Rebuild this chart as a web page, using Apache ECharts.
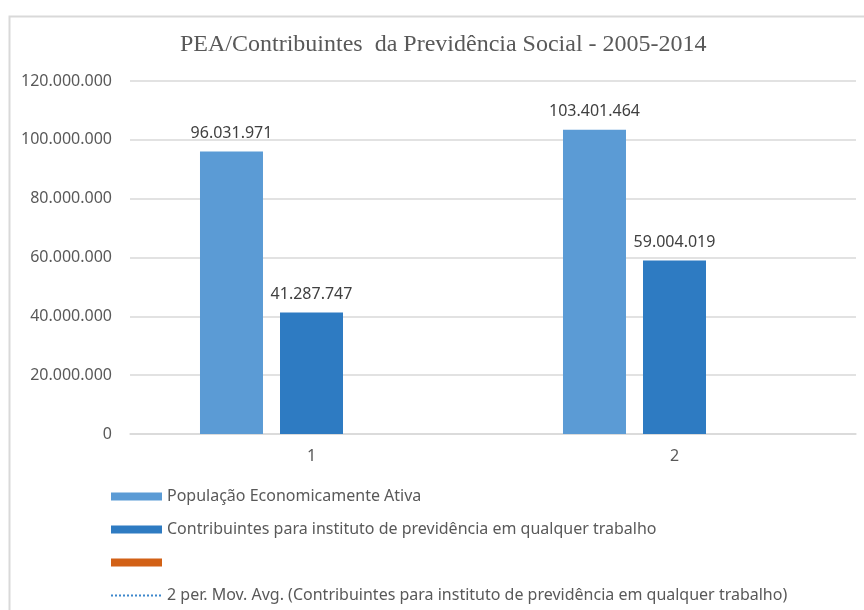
<!DOCTYPE html>
<html>
<head>
<meta charset="utf-8">
<script src="https://cdn.jsdelivr.net/npm/echarts@6/dist/echarts.min.js"></script>
<style>
  html, body { margin: 0; padding: 0; background: #fff; }
  #chart { width: 864px; height: 610px; }
</style>
</head>
<body>
<div id="chart"></div>
<script>
const categories = ['1', '2'];
const peaValues = [96031971, 103401464];
const contribValues = [41287747, 59004019];
const emptySeriesValues = [null, null];
// moving average trendline: nothing visible in the chart, only in the legend
const movingAvgValues = [null, null];
const yTicks = { min: 0, max: 120000000, interval: 20000000 };

const seriesNames = [
  'População Economicamente Ativa',
  'Contribuintes para instituto de previdência em qualquer trabalho',
  ' ',
  '2 per. Mov. Avg. (Contribuintes para instituto de previdência em qualquer trabalho)'
];

// 96031971 -> 96.031.971
function dots(v) {
  return String(Math.round(v)).replace(/\B(?=(\d{3})+(?!\d))/g, '.');
}

const chart = echarts.init(document.getElementById('chart'));

const labelStyle = {
  show: true,
  position: 'top',
  distance: 10,
  color: '#404040',
  fontFamily: 'Noto Sans',
  fontSize: 16,
  formatter: p => dots(p.value)
};

const option = {
  animation: false,
  title: {
    text: 'PEA/Contribuintes  da Previdência Social - 2005-2014',
    left: 180,
    top: 33,
    padding: 0,
    textStyle: {
      fontFamily: 'Liberation Serif',
      fontWeight: 'normal',
      fontSize: 24,
      color: '#595959'
    }
  },
  graphic: [{
    type: 'rect',
    shape: { x: 9.5, y: 16.5, width: 900, height: 700 },
    style: { fill: 'none', stroke: '#d9d9d9', lineWidth: 2 },
    silent: true
  }],
  legend: {
    orient: 'vertical',
    left: 110,
    top: 488,
    padding: 0,
    itemWidth: 51,
    itemHeight: 8,
    itemGap: 16,
    data: [
      { name: seriesNames[0], icon: 'rect' },
      { name: seriesNames[1], icon: 'rect' },
      { name: seriesNames[2], icon: 'rect' },
      {
        name: seriesNames[3],
        itemStyle: { color: 'rgba(0,0,0,0)', borderWidth: 0 },
        lineStyle: { color: '#3d87cc', type: [2, 2], width: 2 }
      }
    ],
    textStyle: {
      fontFamily: 'Noto Sans',
      fontSize: 16,
      color: '#595959',
      lineHeight: 17
    }
  },
  grid: { left: 130, right: 8, top: 81, bottom: 176, containLabel: false },
  xAxis: {
    type: 'category',
    data: categories,
    axisLine: { lineStyle: { color: '#d9d9d9', width: 1.5 } },
    axisTick: { show: false },
    axisLabel: { color: '#595959', fontFamily: 'Noto Sans', fontSize: 16, margin: 14 }
  },
  yAxis: {
    type: 'value',
    min: yTicks.min,
    max: yTicks.max,
    interval: yTicks.interval,
    axisLine: { show: false },
    axisTick: { show: false },
    splitLine: { lineStyle: { color: '#d9d9d9', width: 1.5 } },
    axisLabel: {
      color: '#595959',
      fontFamily: 'Noto Sans',
      fontSize: 16,
      margin: 18,
      formatter: v => dots(v)
    }
  },
  series: [
    {
      name: seriesNames[0],
      type: 'bar',
      data: peaValues,
      barWidth: 63,
      barGap: '27%',
      itemStyle: { color: '#5b9bd5' },
      label: labelStyle
    },
    {
      name: seriesNames[1],
      type: 'bar',
      data: contribValues,
      barWidth: 63,
      barGap: '27%',
      itemStyle: { color: '#2e7bc2' },
      label: labelStyle
    },
    {
      name: seriesNames[2],
      type: 'bar',
      data: emptySeriesValues,
      barWidth: 63,
      barGap: '27%',
      itemStyle: { color: '#d26116' }
    },
    {
      name: seriesNames[3],
      type: 'line',
      data: movingAvgValues,
      symbol: 'none',
      itemStyle: { color: '#3d87cc' },
      lineStyle: { color: '#3d87cc', type: [2, 2], width: 2 }
    }
  ]
};

chart.setOption(option);
</script>
</body>
</html>
